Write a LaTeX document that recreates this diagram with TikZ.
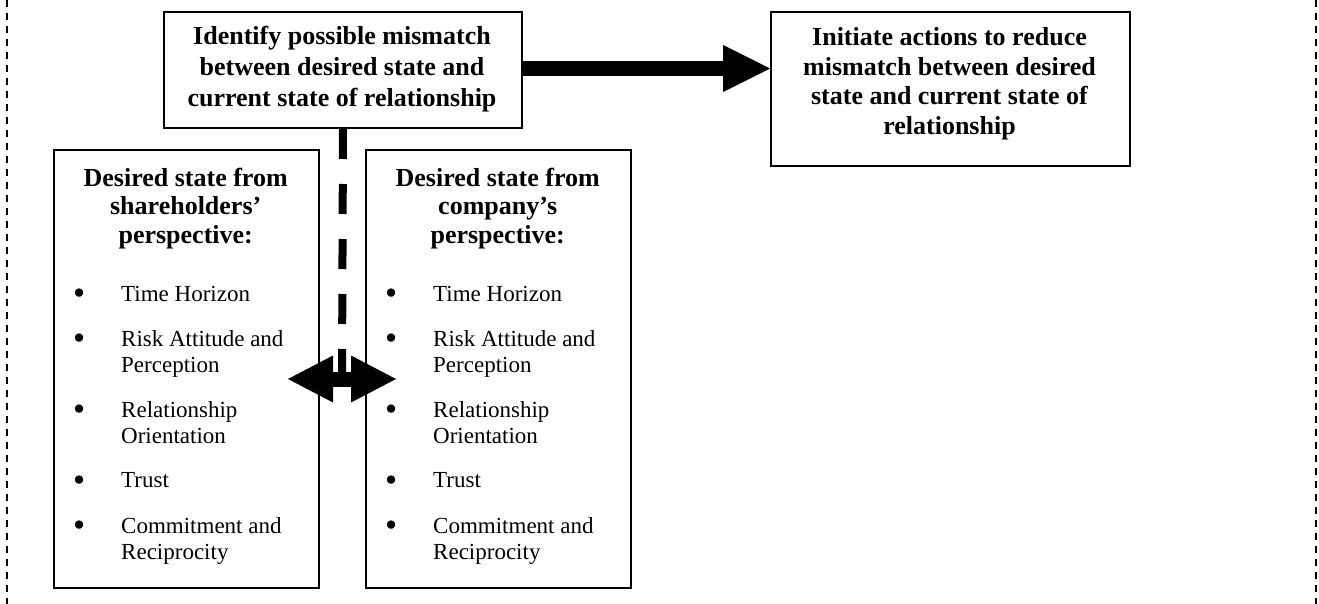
\documentclass[tikz,border=0pt]{standalone}
\usepackage{fontspec}
\usepackage{graphicx}
\setmainfont{Liberation Serif}
\usetikzlibrary{arrows.meta,calc}
\newcommand\bitem[1]{\par\hangindent=68pt\hangafter=1\noindent\makebox[68pt][l]{\hspace{20pt}\raisebox{-3.5pt}{\scalebox{1.5}{\textbullet}}}#1}
\newcommand\lowertext[1]{%
\begin{minipage}[t]{265pt}%
\fontsize{26}{28}\selectfont\bfseries\centering #1\par
\normalfont\fontsize{23}{26}\selectfont\raggedright\parskip=19pt
\vspace{13pt}%
\bitem{Time Horizon}
\bitem{Risk Attitude and\newline Perception}
\bitem{Relationship\newline Orientation}
\bitem{Trust}
\bitem{Commitment and\newline Reciprocity}\par
\end{minipage}}
\begin{document}
\begin{tikzpicture}[x=1pt,y=-1pt,
  box/.style={draw, line width=2pt, fill=white, anchor=north west, inner sep=0pt},
  txt/.style={anchor=base, inner sep=0pt},
  frameline/.style={dash pattern=on 7pt off 6pt, line width=2pt},
  bigarrow/.style={line width=15pt, -{Triangle[length=47pt,width=47pt,line width=0pt]}},
  dblarrow/.style={line width=15pt, {Triangle[length=45pt,width=47pt,line width=0pt]}-{Triangle[length=45pt,width=47pt,line width=0pt]}},
  dashconn/.style={line width=8pt, dash pattern=on 30pt off 25pt}]
\useasboundingbox (0,0) rectangle (1319,604);
% outer frame (dashed verticals)
\draw[frameline] (7,0) -- (7,604);
\draw[frameline] (1316,0) -- (1316,604);
% coordinates
\coordinate (dj) at (342,379);
\coordinate (dl) at (288,379);
\coordinate (dr) at (396,379);
% boxes
\node[box, minimum width=358pt, minimum height=116pt] (ident) at (163,11) {};
\node[box, minimum width=359pt, minimum height=154pt] (init) at (770,11) {};
\node[box, minimum width=265pt, minimum height=438pt] (share) at (53,149) {};
\node[box, minimum width=265pt, minimum height=438pt] (comp) at (365,149) {};
% texts
\node[txt] (identtxt) at (342,45) {\begin{minipage}[t]{350pt}\fontsize{26}{31}\selectfont\bfseries\centering Identify possible mismatch\\between desired state and\\current state of relationship\end{minipage}};
\node[txt] (inittxt) at (949.5,46) {\begin{minipage}[t]{350pt}\fontsize{26}{29.5}\selectfont\bfseries\centering Initiate actions to reduce\\mismatch between desired\\state and current state of\\relationship\end{minipage}};
\node[anchor=base west, inner sep=0pt] (sharetxt) at (53,187) {\lowertext{Desired state from\\shareholders’\\perspective:}};
\node[anchor=base west, inner sep=0pt] (comptxt) at (365,187) {\lowertext{Desired state from\\company’s\\perspective:}};
% connectors
\draw[bigarrow] ([yshift=1.5pt]ident.east) -- ([yshift=1.5pt]ident.east -| init.west);
\draw[dashconn] (ident.south) -- (dj);
\draw[dblarrow] (dl) -- (dr);
\end{tikzpicture}
\end{document}
